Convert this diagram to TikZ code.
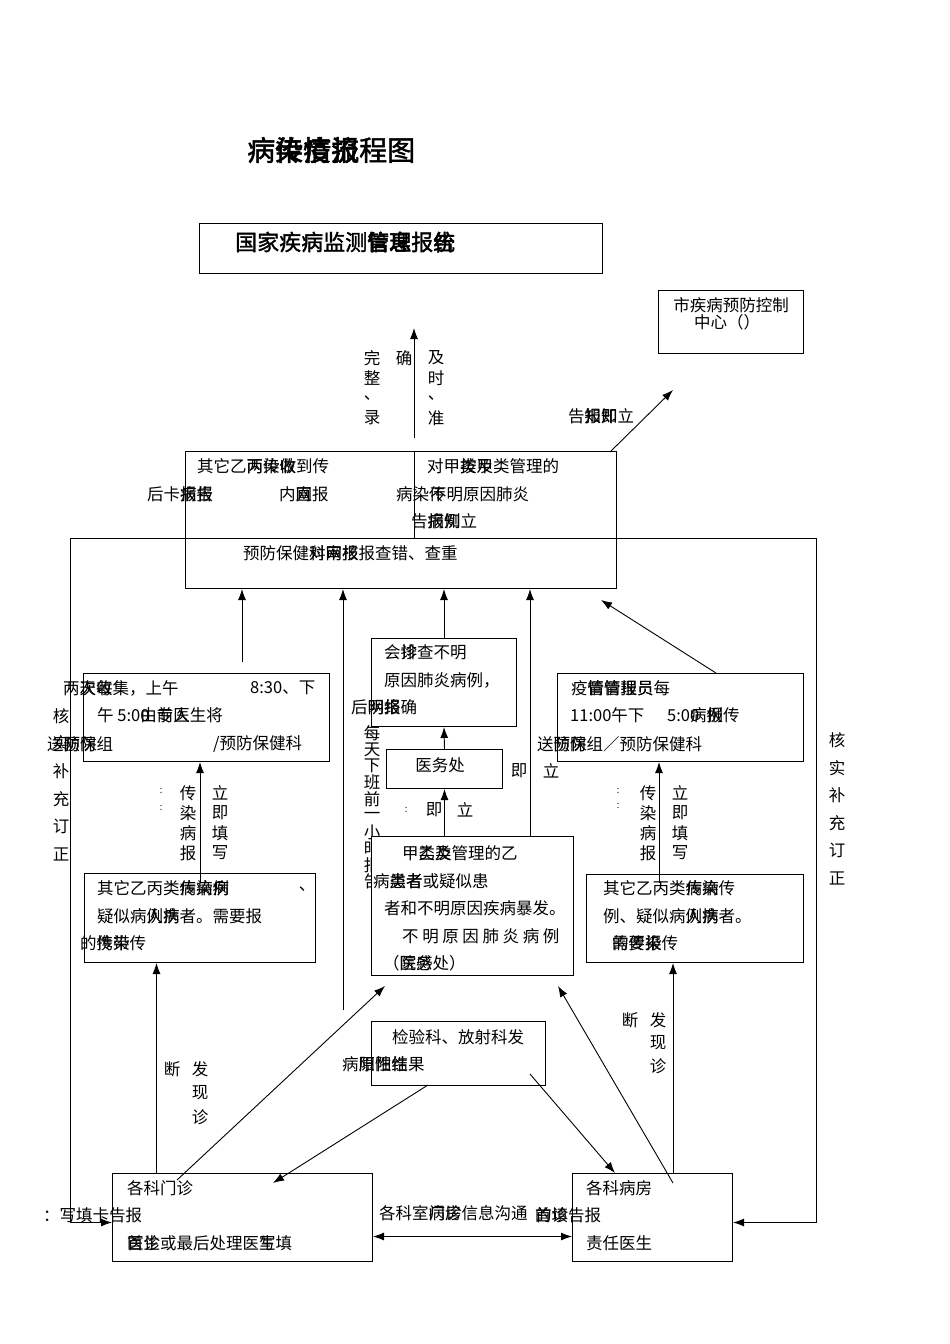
\documentclass[tikz,border=0pt]{standalone}
\usepackage{fontspec}
\setmainfont{Noto Sans CJK SC}
\newfontfamily\cjkb[FakeBold=1.6]{Noto Sans CJK SC}
\usetikzlibrary{arrows.meta}
\newcommand\fsz{\fontsize{16.5}{18}\selectfont}
\newcommand\lsp{\hspace{3.6pt}}
\tikzset{
  box/.style={draw, line width=1pt, inner sep=0pt, anchor=north west},
  txt/.style={inner sep=0pt, anchor=west, font=\fsz},
  ch/.style={inner sep=0pt, anchor=center, font=\fsz},
  tiny/.style={inner sep=0pt, anchor=center, font=\fontsize{8}{8}\selectfont},
  arr/.style={-{Latex[length=11pt,width=8pt]}, line width=0.9pt},
  ln/.style={line width=0.9pt}
}
\newcommand\mybx[5]{\node[box,minimum width=#4pt,minimum height=#5pt] (#1) at (#2,#3) {};}
\newcommand\mytx[4]{\node[txt] (#1) at (#2,#3) {#4};}
\newcommand\myvcol[5]{\foreach \ch [count=\i from 0] in {#5} {\node[ch] (#1\i) at (#2,#3+\i*#4) {\ch};}}
\begin{document}
\begin{tikzpicture}[x=1pt,y=-1pt]
\useasboundingbox (0,0) rectangle (950,1344);
\fill[white] (0,0) rectangle (950,1344);

% title
\node[inner sep=0pt, anchor=west, font=\cjkb\fontsize{28}{28}\selectfont] (title) at (247,150) {病\rlap{传}染\rlap{疫}情\rlap{报}流程图};

% boxes
\mybx{sys}{199}{223}{403}{50}
\mybx{cdc}{658}{290}{145}{63}
\mybx{top}{185}{451}{431}{137}
\mybx{topr}{414}{451}{202}{87}
\mybx{kesl}{83}{673}{246}{88}
\mybx{lowl}{84}{873}{231}{89}
\mybx{hz}{371}{638}{145}{88}
\mybx{yw}{386}{749}{116}{39}
\mybx{kesr}{557}{673}{246}{88}
\mybx{lowr}{586}{874}{217}{88}
\mybx{jyk}{371}{1021}{174}{64}
\mybx{mz}{112}{1173}{260}{88}
\mybx{bf}{572}{1173}{160}{88}

% connectors
\coordinate (u0) at (414,438);
\coordinate (u1) at (414,328);
\draw[arr] (u0) -- (u1);
\coordinate (c1) at (610,452);
\coordinate (c2) at (673,390);
\draw[arr] (c1) -- (c2);
\coordinate (lt) at (70,538);
\coordinate (rt) at (816,538);
\draw[ln] (lt) -- (rt);
\draw[arr] (lt) |- ([yshift=-5pt]mz.west);
\draw[arr] (rt) |- ([yshift=-5pt]bf.east);
\coordinate (a1) at (242,662);
\draw[arr] (a1) -- (a1 |- top.south);
\coordinate (a2) at (343,1010);
\draw[arr] (a2) -- (a2 |- top.south);
\draw[arr] (hz.north) -- (hz.north |- top.south);
\coordinate (a4) at (530,0);
\coordinate (d1) at (716,673);
\coordinate (d2) at (601,600);
\draw[arr] (d1) -- (d2);
\draw[arr] ([yshift=-10pt]lowl.north) -- (lowl.north |- kesl.south);
\coordinate (m1) at ([xshift=-86pt]mz.north);
\draw[arr] (m1) -- (m1 |- lowl.south);
\coordinate (dd1) at (177,1180);
\coordinate (dd2) at (385,986);
\draw[arr] (dd1) -- (dd2);
\coordinate (j1) at (428,1085);
\coordinate (j2) at (273,1183);
\draw[arr] (j1) -- (j2);
\coordinate (j3) at (530,1074);
\coordinate (j4) at (615,1173);
\draw[arr] (j3) -- (j4);
\coordinate (b1) at (673,1183);
\coordinate (b2) at (558,986);
\draw[arr] (b1) -- (b2);
\draw[{Latex[length=11pt,width=8pt]}-{Latex[length=11pt,width=8pt]}, line width=0.9pt] ([yshift=-19pt]mz.east) -- ([yshift=-19pt]bf.west);
\coordinate (b3) at (673,0);
\draw[arr] (b3 |- bf.north) -- (b3 |- lowr.south);
\coordinate (r1) at (659,883);
\draw[arr] (r1) -- (r1 |- kesr.south);
\draw[arr] (yw.north) -- (hz.south);

% texts: top
\node[inner sep=0pt, anchor=west, font=\cjkb\fontsize{22}{22}\selectfont] (systx) at (235,242) {国家疾病监测\rlap{信}管\rlap{息}理报\rlap{告}统};
\node[ch] (cdc1) at (731,305) {市疾病预防控制};
\node[ch] (cdc2) at (727,322) {中心（）};
\myvcol{va}{372}{358}{20}{完,整,、,录}
\node[ch] (vb) at (404,358) {确};
\myvcol{vc}{436}{358}{20}{及,时,、,准}
\mytx{lbl1}{568}{416}{告\rlap{知}报\rlap{即}知立}

\mytx{t1}{197}{466}{其它乙\rlap{丙}两\rlap{传}染\rlap{收}做到传}
\mytx{t2}{147}{494}{后卡\rlap{报}病\rlap{告}报}
\mytx{t3}{279}{494}{内\rlap{网}直报}
\mytx{t4}{396}{494}{病染传}
\mytx{t5}{430}{494}{不明原因肺炎}
\mytx{t6}{411}{521}{告\rlap{病}报\rlap{例}知立}
\mytx{t7}{427}{466}{对甲\rlap{按}类\rlap{甲}及类管理的}
\mytx{t8}{243}{553}{预防保健\rlap{对}科\rlap{网}审\rlap{报}核报查错、查重}

% left collection box
\mytx{k1}{63}{688}{两\rlap{天}次\rlap{每}收集，上午}
\mytx{k2}{250}{688}{8:30、下}
\mytx{k3}{97}{715}{午 5:0\rlap{0}由\rlap{专}前\rlap{人}医生将}
\mytx{k4}{47}{744}{送\rlap{预}防\rlap{防}保组}
\mytx{k5}{213}{744}{/预防保健科}
\myvcol{hl}{61}{716}{27.6}{核,实,补,充,订,正}
\myvcol{ll}{188}{793}{20}{传,染,病,报}
\myvcol{lr}{220}{793}{20}{立,即,填,写}
\node[tiny] (dl1) at (163,791) {：};
\node[tiny] (dl2) at (163,808) {：};

% lower left box
\mytx{l1}{97}{888}{其它乙丙类\rlap{传}病\rlap{染}病\rlap{病}例}
\node[ch] (l1b) at (307,889) {、};
\mytx{l2}{97}{916}{疑似病\rlap{人}例\rlap{病}携者。需要报}
\mytx{l3}{80}{943}{的\rlap{携}传\rlap{带}染传}
\node[ch] (fl0) at (172,1069) {断};
\myvcol{fl}{200}{1069}{24}{发,现,诊}

% outpatient box
\mytx{m1t}{127}{1188}{各科门诊}
\mytx{m2t}{43}{1215}{：写填卡告报}
\mytx{m3t}{127}{1243}{\rlap{首}医\rlap{诊}生或最后处理医\rlap{写}生填}

% lab box
\mytx{jy1}{392}{1037}{检验科、放射科发}
\mytx{jy2}{342}{1064}{病\rlap{原}阳\rlap{阳}性\rlap{性}结果}

% bottom link label
\mytx{lk}{379}{1213}{各科室\rlap{门}病\rlap{诊}房信息沟通}

% ward box
\mytx{bf1}{586}{1188}{各科病房}
\mytx{bf2}{535}{1215}{\rlap{首}的\rlap{诊}填告报}
\mytx{bf3}{586}{1243}{责任医生}
\node[ch] (fr0) at (630,1020) {断};
\myvcol{fr}{658}{1020}{23}{发,现,诊}

% lower right box
\mytx{r1t}{603}{888}{其它乙丙类\rlap{传}病\rlap{染}病传}
\mytx{r2t}{603}{916}{例、疑似病\rlap{人}例\rlap{病}携者。}
\mytx{r3t}{612}{943}{\rlap{的}需\rlap{传}要\rlap{染}报传}
\myvcol{rl}{648}{793}{20}{传,染,病,报}
\myvcol{rr}{680}{793}{20}{立,即,填,写}
\node[tiny] (dr1) at (620,791) {：};
\node[tiny] (dr2) at (620,806) {：};

% right collection box
\mytx{q1}{571}{688}{疫\rlap{情}管\rlap{管}情\rlap{理}报\rlap{员}员每}
\mytx{q2}{570}{715}{11:00午下}
\mytx{q3}{667}{715}{5:0\rlap{0}病\rlap{例}报传}
\mytx{q4}{537}{744}{送\rlap{预}防\rlap{防}保组／预防保健科}
\myvcol{hr}{837}{740}{27.7}{核,实,补,充,订,正}

% consultation box
\mytx{h1}{384}{652}{会\rlap{诊}排查不明}
\mytx{h2}{384}{680}{原因肺炎病例，}
\mytx{h3}{351}{707}{后\rlap{明}网\rlap{络}报确}
\node[ch] (ywt) at (440,765) {医务处};
\node[tiny] (dm1) at (408,810) {：};
\node[ch] (im1) at (434,810) {即};
\node[ch] (im2) at (465,810) {立};
\node[ch] (im3) at (519,771) {即};
\node[ch] (im4) at (551,771) {立};
\myvcol{mc}{372}{733}{16.5}{每,天,下,班,前,一,小,时,报,告}

% class A box (drawn over the column)
\node[box, fill=white, minimum width=202pt, minimum height=139pt] (jia) at (371,836) {};
\draw[arr] (yw.south |- jia.north) -- (yw.south);
\draw[arr] (a4 |- jia.north) -- (a4 |- top.south);
\mytx{g1}{402}{853}{甲\rlap{乙}类\rlap{类}及管理的乙}
\mytx{g2}{373}{881}{病\rlap{类}患\rlap{者}者或疑似患}
\mytx{g3}{384}{908}{者和不明原因疾病暴发。}
\mytx{g4}{402}{936}{不\lsp 明\lsp 原\lsp 因\lsp 肺\lsp 炎\lsp 病\lsp 例}
\mytx{g5}{383}{963}{（\rlap{医}院\rlap{务}感处）}
\end{tikzpicture}
\end{document}
